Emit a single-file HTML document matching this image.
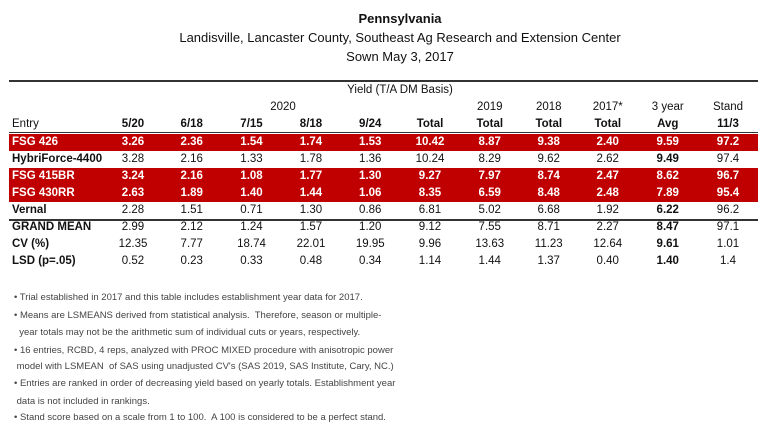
<!DOCTYPE html>
<html><head><meta charset="utf-8"><style>
body{margin:0;width:768px;height:439px;background:#fff;font-family:"Liberation Sans",sans-serif;position:relative;overflow:hidden;color:#111}
.t{position:absolute;left:0;width:800px;text-align:center;font-size:13px;line-height:16px}
table{position:absolute;left:9px;top:82px;border-collapse:collapse;table-layout:fixed;width:749px;font-size:11.5px}
td{height:17px;padding:0;text-align:center;white-space:nowrap;line-height:17px}
td:first-child{text-align:left;padding-left:3px;font-weight:bold}
tr.r td{background:#c00000;color:#fff;font-weight:bold}
.b{font-weight:bold}
.n{font-weight:normal!important}
.fn{position:absolute;left:14px;font-size:9.5px;color:#444;line-height:12px;white-space:nowrap}
.lab{position:absolute;font-size:11.5px;line-height:17px;text-align:center;white-space:nowrap}
</style></head><body>
<div class="t" style="top:11px;font-weight:bold">Pennsylvania</div>
<div class="t" style="top:30px">Landisville, Lancaster County, Southeast Ag Research and Extension Center</div>
<div class="t" style="top:49px">Sown May 3, 2017</div>
<div style="position:absolute;left:9px;top:80px;width:749px;height:2px;background:#333"></div>
<div style="position:absolute;left:9px;top:132px;width:749px;height:1px;background:#333"></div>
<div style="position:absolute;left:9px;top:219px;width:749px;height:2px;background:#333"></div>
<div class="lab" style="left:300px;width:200px;top:82px">Yield (T/A DM Basis)</div>
<div class="lab" style="left:233px;width:100px;top:99px">2020</div>
<table>
<colgroup><col style="width:95px"><col style="width:58px"><col style="width:59.5px"><col style="width:60px"><col style="width:59px"><col style="width:59.5px"><col style="width:60px"><col style="width:59.5px"><col style="width:58.5px"><col style="width:59.5px"><col style="width:60.5px"><col style="width:60px"></colgroup>
<tr><td></td><td colspan="11"></td></tr>
<tr><td></td><td></td><td></td><td></td><td></td><td></td><td></td><td>2019</td><td>2018</td><td>2017*</td><td>3 year</td><td>Stand</td></tr>
<tr style="height:17px"><td class="n">Entry</td><td class="b">5/20</td><td class="b">6/18</td><td class="b">7/15</td><td class="b">8/18</td><td class="b">9/24</td><td class="b">Total</td><td class="b">Total</td><td class="b">Total</td><td class="b">Total</td><td class="b">Avg</td><td class="b">11/3</td></tr>
<tr><td colspan="12" style="height:1px;line-height:1px"></td></tr>
<tr class="r"><td>FSG 426</td><td>3.26</td><td>2.36</td><td>1.54</td><td>1.74</td><td>1.53</td><td>10.42</td><td>8.87</td><td>9.38</td><td>2.40</td><td>9.59</td><td>97.2</td></tr>
<tr><td>HybriForce-4400</td><td>3.28</td><td>2.16</td><td>1.33</td><td>1.78</td><td>1.36</td><td>10.24</td><td>8.29</td><td>9.62</td><td>2.62</td><td class="b">9.49</td><td>97.4</td></tr>
<tr class="r"><td>FSG 415BR</td><td>3.24</td><td>2.16</td><td>1.08</td><td>1.77</td><td>1.30</td><td>9.27</td><td>7.97</td><td>8.74</td><td>2.47</td><td>8.62</td><td>96.7</td></tr>
<tr class="r"><td>FSG 430RR</td><td>2.63</td><td>1.89</td><td>1.40</td><td>1.44</td><td>1.06</td><td>8.35</td><td>6.59</td><td>8.48</td><td>2.48</td><td>7.89</td><td>95.4</td></tr>
<tr><td>Vernal</td><td>2.28</td><td>1.51</td><td>0.71</td><td>1.30</td><td>0.86</td><td>6.81</td><td>5.02</td><td>6.68</td><td>1.92</td><td class="b">6.22</td><td>96.2</td></tr>
<tr><td>GRAND MEAN</td><td>2.99</td><td>2.12</td><td>1.24</td><td>1.57</td><td>1.20</td><td>9.12</td><td>7.55</td><td>8.71</td><td>2.27</td><td class="b">8.47</td><td>97.1</td></tr>
<tr><td>CV (%)</td><td>12.35</td><td>7.77</td><td>18.74</td><td>22.01</td><td>19.95</td><td>9.96</td><td>13.63</td><td>11.23</td><td>12.64</td><td class="b">9.61</td><td>1.01</td></tr>
<tr><td>LSD (p=.05)</td><td>0.52</td><td>0.23</td><td>0.33</td><td>0.48</td><td>0.34</td><td>1.14</td><td>1.44</td><td>1.37</td><td>0.40</td><td class="b">1.40</td><td>1.4</td></tr>
</table>
<div class="fn" style="top:292px">• Trial established in 2017 and this table includes establishment year data for 2017.</div>
<div class="fn" style="top:310px">• Means are LSMEANS derived from statistical analysis.&nbsp; Therefore, season or multiple-</div>
<div class="fn" style="top:327px">&nbsp;&nbsp;year totals may not be the arithmetic sum of individual cuts or years, respectively.</div>
<div class="fn" style="top:345px">• 16 entries, RCBD, 4 reps, analyzed with PROC MIXED procedure with anisotropic power</div>
<div class="fn" style="top:361px">&nbsp;model with LSMEAN&nbsp; of SAS using unadjusted CV's (SAS 2019, SAS Institute, Cary, NC.)</div>
<div class="fn" style="top:378px">• Entries are ranked in order of decreasing yield based on yearly totals. Establishment year</div>
<div class="fn" style="top:396px">&nbsp;data is not included in rankings.</div>
<div class="fn" style="top:412px">• Stand score based on a scale from 1 to 100.&nbsp; A 100 is considered to be a perfect stand.</div>
</body></html>
